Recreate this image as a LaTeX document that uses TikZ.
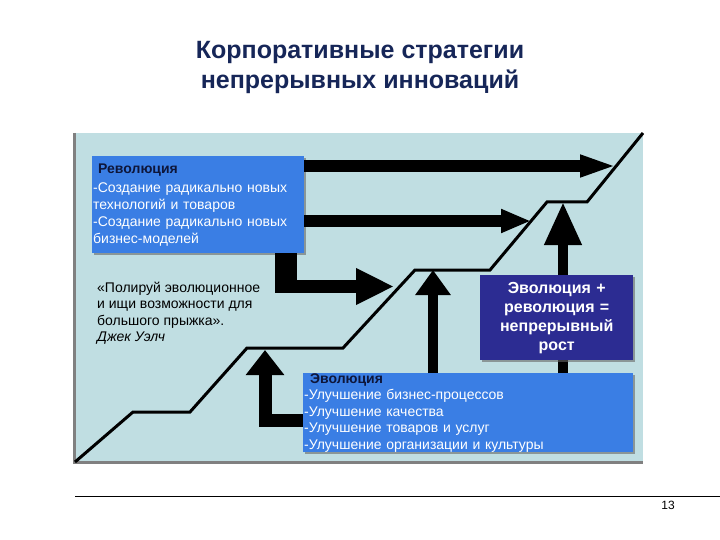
\documentclass[tikz,border=0pt]{standalone}
\usepackage{fontspec}
\setmainfont{Liberation Sans}
\usepackage{xcolor}
\usetikzlibrary{positioning,arrows.meta,shadows}

\definecolor{panelcol}{RGB}{192,222,226}
\definecolor{boxblue}{RGB}{58,126,228}
\definecolor{boxnavy}{RGB}{44,44,146}
\definecolor{titlecol}{RGB}{22,38,88}
\definecolor{headcol}{RGB}{14,22,58}

\begin{document}
\begin{tikzpicture}[x=1pt, y=-1pt,
  infobox/.style={fill=boxblue, text=white, align=left, anchor=north west, inner xsep=1pt, inner ysep=3pt, font=\fontsize{14}{16.8}\selectfont, drop shadow={shadow xshift=2pt, shadow yshift=-2pt, fill=black!60, opacity=0.6}},
  sumbox/.style={fill=boxnavy, text=white, align=center, anchor=north west, font=\bfseries\fontsize{16}{19}\selectfont, drop shadow={shadow xshift=2pt, shadow yshift=-2pt, fill=black!60, opacity=0.6}},
  bigarrow/.style={draw=black, line width=12pt},
  stairs/.style={draw=black, line width=3pt, line join=miter}]
\useasboundingbox (0,0) rectangle (720,540);

% title
\node[font=\bfseries\fontsize{25}{30}\selectfont, text=titlecol, align=center] (title) at (360,67) {Корпоративные стратегии\\непрерывных инноваций};

% panel
\fill[panelcol] (74,133) rectangle (643,463);
\draw[gray, line width=2.5pt] (74.5,133) -- (74.5,462.5) -- (643,462.5);

% text blocks
\node[infobox, text width=210pt, minimum height=97pt] (rev) at (92,156) {\hspace*{5pt}\textcolor{headcol}{\textbf{Революция}}\\[3pt]-Создание радикально новых\\технологий и товаров\\-Создание радикально новых\\бизнес-моделей};
\node[infobox, text width=328pt, minimum height=79pt, inner ysep=0pt, font=\fontsize{14}{16.5}\selectfont] (evo) at (303,373) {\hspace*{6pt}\textcolor{headcol}{\textbf{Эволюция}}\\-Улучшение бизнес-процессов\\-Улучшение качества\\-Улучшение товаров и услуг\\-Улучшение организации и культуры};
\node[align=left, anchor=north west, inner sep=0pt, font=\fontsize{14}{16.4}\selectfont] (quote) at (97,282) {«Полируй эволюционное\\и ищи возможности для\\большого прыжка».\\\textit{Джек Уэлч}};

% arrow ends
\coordinate (tipA) at (617,166);
\coordinate (tipB) at (531,221);
\coordinate (bendC) at (286,286.5);
\coordinate (tipC) at (394,286.5);
\coordinate (tipD) at (433,270);
\coordinate (tipE) at (563,202);
\coordinate (bendF) at (265,420);
\coordinate (tipF) at (265,350);

% arrows
\draw[bigarrow, -{Triangle[length=37pt, width=20pt]}] (rev.east |- tipA) -- (tipA);
\draw[bigarrow, -{Triangle[length=30pt, width=22pt]}] (rev.east |- tipB) -- (tipB);
\draw[bigarrow, line width=22pt] (rev.south -| bendC) -- ([yshift=6.5pt]bendC);
\draw[bigarrow, line width=13pt, -{Triangle[length=38pt, width=34pt]}] ([xshift=-11pt]bendC) -- (tipC);
\draw[bigarrow, line width=10pt, -{Triangle[length=25pt, width=34pt]}] (evo.north -| tipD) -- (tipD);
\draw[bigarrow, line width=10pt, -{Triangle[length=43pt, width=35pt]}] (evo.north -| tipE) -- (tipE);
\draw[bigarrow, line width=13pt, -{Triangle[length=25pt, width=37pt]}] (evo.west |- bendF) -- (bendF) -- (tipF);

% growth line
\draw[stairs] (75,462) -- (133,412) -- (190,412) -- (247,348) -- (343,348) -- (415,270) -- (490,270) -- (547,202) -- (587,202) -- (643,133);

\node[sumbox, text width=150pt, minimum width=153pt, minimum height=85pt, inner xsep=1.5pt] (sum) at (480,275) {Эволюция +\\революция =\\непрерывный\\рост};

% footer
\draw[black, line width=1pt] (75,496) -- (720,496);
\node[font=\fontsize{12}{14}\selectfont] (page) at (668,505) {13};
\end{tikzpicture}
\end{document}
